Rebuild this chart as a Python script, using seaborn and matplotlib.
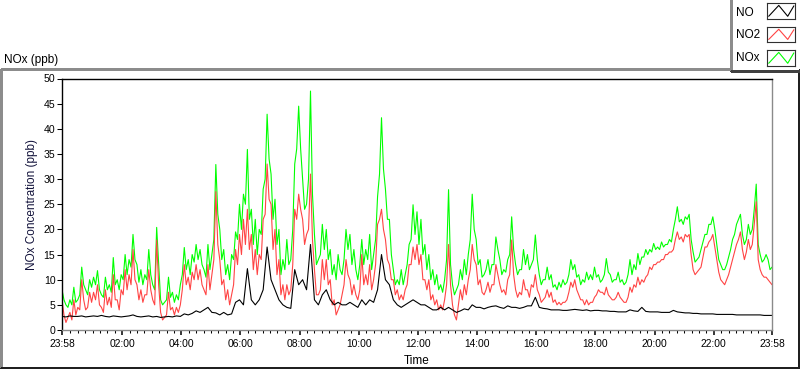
import numpy as np
import pandas as pd
import matplotlib
matplotlib.use("Agg")
import matplotlib.pyplot as plt
import seaborn as sns
from matplotlib.lines import Line2D
from matplotlib.ticker import FixedLocator, NullFormatter

sns.set_theme(style="white", rc={"text.color": "black", "axes.labelcolor": "black",
                                 "xtick.color": "black", "ytick.color": "black"})
plt.rcParams['font.family'] = ['Liberation Sans', 'DejaVu Sans']

# ---------------- data ----------------
# samples every 8 minutes starting 23:58, plus readings half-way between them
sample_minutes = 8
start_hour = -2 / 60  # 23:58 of the previous day

nox_on = [8, 5, 6, 8.5, 6, 12.5, 8, 10, 10.5, 11.8, 7, 10.5, 9, 14.4, 10, 11, 15, 14, 19, 13,
          12, 11, 16, 9, 20.4, 6, 5.5, 10.5, 7.5, 7, 9, 16.4, 14, 15, 17, 16, 12,
          17, 15, 32.9, 20, 16, 13, 15, 19.5, 25, 27, 35.9, 24, 22, 20, 28, 42.9, 31, 26, 20,
          14, 18, 14, 33, 44.5, 30, 25, 47.5, 19, 14, 21, 20, 16, 13, 15, 11,
          20, 19, 16, 10, 18, 16, 19, 15, 26.5, 42.2, 28, 22, 12, 10, 12, 11, 17, 24.9, 23.5,
          22, 17, 15, 12, 11, 9, 10, 27.9, 9, 8, 12, 14, 15, 27, 18, 14, 11,
          14, 13, 18.5, 14, 12, 14, 22.5, 13, 12, 16, 15, 13, 18.9, 11, 10, 12.5, 11, 9, 9.5,
          10, 9.5, 14, 13, 11, 10, 11.5, 11, 12.5, 11, 10, 14.2, 11, 10, 11.5, 10, 9.5,
          14, 13, 15.2, 14.5, 16, 16, 17.2, 16.5, 17.5, 17, 18, 20, 24.5, 22, 22.5, 23, 15.5,
          14, 16, 19, 21, 22.5, 17, 13, 12, 14.5, 18, 21, 23, 17, 21, 20, 29, 15, 14, 14, 12.5]

nox_between = [6, 4.5, 5, 5.5, 7, 9, 7, 8.5, 9, 8, 6.5, 8, 7.5, 9, 8, 10, 11, 12.5, 14, 9.5,
               9, 10, 11, 8, 13, 5, 6, 6.5, 5.5, 6, 11, 12, 11, 13.5, 14, 13,
               10.5, 12, 18, 23, 14, 11, 10, 14, 18, 20, 25, 22, 17, 15, 19, 30, 34, 22, 17,
               11, 12, 13, 20, 36, 36, 24, 30, 27, 13, 15, 16, 14, 11, 10, 12,
               14, 16, 13, 12, 13, 13, 14, 12, 18, 31, 32, 22, 15, 9, 9, 9, 13, 18, 19, 17,
               15, 12, 10, 9, 8, 7.5, 14, 13, 7, 9, 10, 11, 18, 20, 13, 10.5,
               12, 11, 13, 16, 11, 11.5, 15, 16, 11, 12, 13, 12, 14, 14, 9, 10, 10, 8.5, 8,
               8.5, 9, 11, 12, 10.5, 9, 9.5, 10, 10, 10.5, 9.5, 11, 11.5, 9.5, 10, 9.5, 9,
               11, 11, 12, 13, 14.5, 15, 15.5, 16, 16, 16.5, 17, 17.5, 22, 21.5, 21, 22, 18,
               13.5, 14.5, 17.5, 19, 21, 20, 14, 12, 13, 16, 19, 22, 19, 18, 19, 24, 17, 13.5,
               15, 12]

no2_on = [6, 1.5, 3.5, 6, 4.5, 10, 4, 7.5, 7.5, 9, 4.5, 8, 6.5, 11, 6, 8, 12, 11, 16, 9,
          8, 7, 12, 6, 17.9, 3.5, 2.5, 7.5, 4.5, 4.5, 5, 13, 10.5, 11.5, 13, 12, 8,
          13, 11, 27.5, 14, 10, 8, 7, 16, 19, 22, 24, 19, 16, 15, 22, 33, 25, 20, 14,
          9, 9, 8, 24, 27, 22, 19, 31, 12, 7, 14, 14, 10, 6, 4, 7,
          14, 10, 9, 6, 15, 11, 13, 10, 21, 24, 18, 13, 10, 8, 7, 8, 13, 16.5, 17,
          15, 10, 10, 7, 6, 5, 6, 17, 5, 2, 8, 9, 10, 17, 13, 10, 7,
          9.5, 9, 13, 9, 8, 10, 17.9, 8, 7.5, 10, 8, 9, 11, 7, 6, 8, 7.5, 6, 5.5,
          5.5, 6, 9.5, 10, 7, 6, 6, 5.5, 6.5, 8, 7.5, 8.5, 6.5, 6, 7.5, 6, 5.5,
          8.5, 9, 10.5, 10, 10.5, 12.5, 13, 13.5, 14, 15, 15.5, 16, 19.5, 18.5, 19, 19, 12,
          11.5, 12.5, 16.5, 17.5, 19, 14, 10, 9, 11, 14, 17, 19.5, 14, 18, 17, 25.5, 12, 10.5, 10, 9]

no2_between = [3, 2.5, 2, 3, 4, 6, 4.5, 5.5, 6, 5, 3.5, 5, 4.5, 6, 4, 7, 8, 9, 10, 6,
               5.5, 7, 8, 5, 9, 2, 3, 4, 3, 3.5, 8, 9, 8, 10, 10, 9,
               7, 8, 14, 17, 9, 6, 5, 9, 13, 15, 17, 16, 12, 11, 14, 23, 26, 16, 11,
               7, 6, 7, 13, 22, 24, 17, 20, 18, 7, 8, 10, 9, 5, 3, 5,
               9, 11, 7, 7, 8, 9, 9, 8, 13, 22, 20, 14, 10, 7, 6, 6, 9, 13, 14, 13,
               10, 8, 6, 5, 4, 4, 9, 9, 3, 5, 6, 7, 12, 14, 9, 7.5,
               8, 7.5, 9, 11, 7.5, 7, 11, 11, 6.5, 7, 8, 6.5, 8.5, 8, 5.5, 6.5, 6.5, 5.5, 5,
               5, 5.5, 7.5, 8.5, 8, 6, 5, 5, 5.5, 7, 7.5, 7, 7, 6, 6.5, 6.5, 5.5,
               6.5, 7.5, 8.5, 9, 9.5, 11, 12, 13, 13.5, 14, 15, 15.5, 18, 18, 17.5, 18.5, 15,
               11, 12, 14.5, 16.5, 18, 16.5, 11.5, 9.5, 10, 12.5, 15.5, 18, 16, 15.5, 16, 21,
               14, 11, 10.5, 9.5]

no_on = [2.7, 2.6, 2.8, 2.7, 2.7, 2.8, 2.6, 2.7, 2.8, 2.7, 2.9, 2.7, 2.6, 2.8, 2.7, 2.6, 2.7,
         2.8, 3.0, 2.7, 2.6, 2.7, 2.8, 2.6, 2.7, 2.5, 2.6, 2.7, 2.6, 2.8, 2.7, 3.2, 3.0, 3.3,
         3.8, 3.5, 4.0,
         4.5, 3.5, 3.4, 3.0, 3.5, 3.0, 3.2, 5.5, 6, 5, 12.2, 6, 5, 6, 8, 16.5, 10, 8, 6,
         5, 4.5, 4.3, 12, 9, 10, 8, 17, 6, 5, 7, 8, 6, 5, 5.5, 5,
         5, 5.5, 5, 4.5, 6, 5, 6, 5.5, 8, 15, 10, 9, 6, 5, 4.5, 5, 5.5, 6, 5.5,
         5, 5, 4.5, 4, 4, 4.5, 4, 4.5, 4, 3.5, 3.8, 4.2, 4, 5, 4.5, 4.5, 4.2,
         4.5, 4.7, 4.8, 4.5, 4.3, 4.8, 4.5, 4.5, 4.3, 4.5, 4.8, 4.8, 6.5, 4.5, 4.3, 4.2, 4.0,
         4.0, 4.0, 3.9, 3.9, 4.0, 4.1, 4.0, 3.9, 4.0, 3.8, 3.9, 3.9, 3.8, 3.8, 3.7, 3.7, 3.6,
         3.6, 3.6,
         4.0, 3.8, 3.7, 4.5, 3.7, 3.6, 3.6, 3.6, 3.5, 3.5, 3.5, 3.9, 3.6, 3.5, 3.4, 3.4, 3.3,
         3.3, 3.2, 3.2, 3.2, 3.2, 3.1, 3.1, 3.1, 3.1, 3.1, 3.0, 3.0, 3.0, 3.0, 3.0, 3.0, 3.0,
         2.9, 2.9, 2.9]

series_colors = {"NO": "#000000", "NO2": "#ff4444", "NOx": "#00ff00"}

x_tick_hours = [start_hour, 2, 4, 6, 8, 10, 12, 14, 16, 18, 20, 22, 24 + start_hour]
x_tick_labels = ["23:58", "02:00", "04:00", "06:00", "08:00", "10:00", "12:00",
                 "14:00", "16:00", "18:00", "20:00", "22:00", "23:58"]
y_ticks = list(range(0, 51, 5))

# ---------------- build long table ----------------
step_h = sample_minutes / 60
t_on = start_hour + np.arange(len(nox_on)) * step_h
t_between = start_hour + (np.arange(len(nox_between)) + 0.5) * step_h

def series_frame(name, on_vals, between_vals=None):
    if between_vals is None:
        d = pd.DataFrame({"Time": t_on, "Value": on_vals})
    else:
        d = pd.concat([pd.DataFrame({"Time": t_on, "Value": on_vals}),
                       pd.DataFrame({"Time": t_between, "Value": between_vals})])
    d = d.sort_values("Time")
    d["Series"] = name
    return d

df = pd.concat([series_frame("NOx", nox_on, nox_between),
                series_frame("NO2", no2_on, no2_between),
                series_frame("NO", no_on)], ignore_index=True)

# ---------------- figure ----------------
W, H = 800, 369
fig = plt.figure(figsize=(W / 100, H / 100), dpi=100)
fig.patch.set_facecolor("white")

def fx(px):
    return px / W

def fy(py):
    return 1 - py / H

ax = fig.add_axes([fx(62), fy(330), (772 - 62) / W, (330 - 78.5) / H])
ax.set_facecolor("white")

sns.lineplot(data=df, x="Time", y="Value", hue="Series",
             hue_order=["NOx", "NO2", "NO"], palette=series_colors,
             estimator=None, sort=False, linewidth=0.8, legend=False, ax=ax)

ax.set_xlim(start_hour, 24 + start_hour)
ax.set_ylim(0, 50)
ax.set_xlabel("")
ax.set_ylabel("")

ax.xaxis.set_major_locator(FixedLocator(x_tick_hours))
ax.set_xticklabels(x_tick_labels)
minor = [k * 0.25 for k in range(1, 96) if k % 8 != 0]
ax.xaxis.set_minor_locator(FixedLocator(minor))
ax.xaxis.set_minor_formatter(NullFormatter())
ax.set_yticks(y_ticks)
ax.set_yticklabels([str(v) for v in y_ticks])

ax.tick_params(axis="x", which="major", direction="out", length=3.8, width=1.1,
               pad=3, labelsize=7.4, bottom=True)
ax.tick_params(axis="x", which="minor", direction="out", length=2.3, width=0.75,
               bottom=True)
ax.tick_params(axis="y", which="major", direction="out", length=3.3, width=0.75,
               pad=1.5, labelsize=7.6, left=True)

for side in ["top", "left"]:
    ax.spines[side].set_color("black")
    ax.spines[side].set_linewidth(1.0)
for side in ["right", "bottom"]:
    ax.spines[side].set_color("#8a8a8a")
    ax.spines[side].set_linewidth(1.0)

# labels
fig.text(fx(4), fy(60), "NOx (ppb)", ha="left", va="center", fontsize=8.5)
fig.text(fx(32), fy(204), "NOx Concentration (ppb)", ha="center", va="center",
         rotation=90, fontsize=8.5, color="#14143c")
fig.text(fx(417), fy(361), "Time", ha="center", va="center", fontsize=8.5)

# outer panel frame
def fig_line(x0, y0, x1, y1, color, lw=1.0):
    fig.add_artist(Line2D([fx(x0), fx(x1)], [fy(y0), fy(y1)], color=color,
                          lw=lw, transform=fig.transFigure, antialiased=False))

fig_line(0.5, 68.5, 730, 68.5, "#8c8c8c")
fig_line(0.5, 68.5, 0.5, 367.5, "#8c8c8c")
fig_line(0.5, 367.5, 798.5, 367.5, "#202020")
fig_line(798.5, 70, 798.5, 367.5, "#202020")

# legend box (top right)
fig_line(730.5, 0, 730.5, 71, "#8c8c8c")
fig_line(730.5, 70.5, 799, 70.5, "#404040")

legend_rows = [("NO", 12.5, 3, 19), ("NO2", 35, 27, 42), ("NOx", 58, 50, 66)]
for name, ty, by0, by1 in legend_rows:
    fig.text(fx(736), fy(ty), name, ha="left", va="center", fontsize=8.5)
    iax = fig.add_axes([fx(767), fy(by1), (795 - 767) / W, (by1 - by0) / H])
    iax.set_facecolor("white")
    iax.plot([0.06, 0.42, 0.74, 0.96], [0.17, 0.85, 0.17, 0.82],
             color=series_colors[name], lw=0.8)
    iax.set_xlim(0, 1)
    iax.set_ylim(0, 1)
    iax.set_xticks([])
    iax.set_yticks([])
    for s in iax.spines.values():
        s.set_color("#303030")
        s.set_linewidth(0.8)

fig.savefig("out.png", dpi=100, facecolor="white")
